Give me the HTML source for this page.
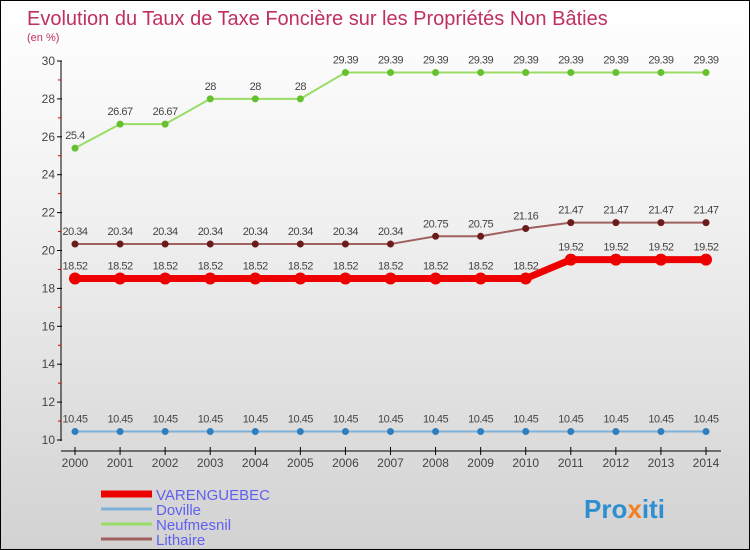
<!DOCTYPE html>
<html><head><meta charset="utf-8"><style>
body{margin:0}
#c{width:748px;height:548px;border:1px solid #000;background:linear-gradient(#fff 0%,#f0f0f0 40%,#d2d2d2 100%);position:relative;overflow:hidden;font-family:"Liberation Sans",sans-serif}
</style></head><body>
<div id="c">
<svg width="748" height="548" id="svg">
<text x="26" y="24" font-size="20" fill="#c0305e">Evolution du Taux de Taxe Foncière sur les Propriétés Non Bâties</text>
<text x="26" y="40" font-size="11" fill="#c0305e">(en %)</text>
<g id="axes"></g><g id="series"></g><g id="legend"></g>
<text x="583" y="517" font-size="26" font-weight="bold"><tspan fill="#2e8fd0">Pro</tspan><tspan fill="#f08020">x</tspan><tspan fill="#2e8fd0">iti</tspan></text>
</svg></div>
<script>
const years=[2000,2001,2002,2003,2004,2005,2006,2007,2008,2009,2010,2011,2012,2013,2014];
const yTicks=[10,12,14,16,18,20,22,24,26,28,30];
const varenguebec=[18.52,18.52,18.52,18.52,18.52,18.52,18.52,18.52,18.52,18.52,18.52,19.52,19.52,19.52,19.52];
const doville=[10.45,10.45,10.45,10.45,10.45,10.45,10.45,10.45,10.45,10.45,10.45,10.45,10.45,10.45,10.45];
const neufmesnil=[25.4,26.67,26.67,28,28,28,29.39,29.39,29.39,29.39,29.39,29.39,29.39,29.39,29.39];
const lithaire=[20.34,20.34,20.34,20.34,20.34,20.34,20.34,20.34,20.75,20.75,21.16,21.47,21.47,21.47,21.47];
const NS="http://www.w3.org/2000/svg";
function X(i){return 74+i*(705-74)/(years.length-1);}
function Y(v){return 439-(v-10)*(439-60)/20;}
function mk(p,t,a){const e=document.createElementNS(NS,t);for(const k in a)e.setAttribute(k,a[k]);p.appendChild(e);return e;}
const ax=document.getElementById('axes');
mk(ax,'line',{x1:60,y1:60,x2:60,y2:440,stroke:'#000'});
yTicks.forEach(v=>{const y=Y(v);
 mk(ax,'line',{x1:56,y1:y,x2:61,y2:y,stroke:'#000'});
 if(v<30)mk(ax,'line',{x1:57,y1:Y(v+1),x2:60,y2:Y(v+1),stroke:'#d00'});
 const t=mk(ax,'text',{x:54,y:y+4,'font-size':12,fill:'#444','text-anchor':'end'});t.textContent=v;
 
 });
mk(ax,'line',{x1:60,y1:450,x2:720,y2:450,stroke:'#000'});
years.forEach((yr,i)=>{const x=X(i);
 mk(ax,'line',{x1:x,y1:446,x2:x,y2:454,stroke:'#000'});
 const t=mk(ax,'text',{x:x,y:466,'font-size':12,fill:'#444','text-anchor':'middle'});t.textContent=yr;
 
 });
const sg=document.getElementById('series');
const defs=[["varenguebec",varenguebec,'#ee0000',7,6,'#ee0000'],["doville",doville,'#7fb0d8',2,3.5,'#2f7fc0'],["neufmesnil",neufmesnil,'#99dd66',2,3.5,'#66c030'],["lithaire",lithaire,'#a06060',2,3.5,'#6a1c1c']];
defs.forEach(([n,d,lc,w,r,mc])=>{
 const g=mk(sg,'g',{});
 
 
 mk(g,'polyline',{points:d.map((v,i)=>X(i)+','+Y(v)).join(' '),fill:'none',stroke:lc,'stroke-width':w});
 d.forEach((v,i)=>{const c=mk(g,'circle',{cx:X(i),cy:Y(v),r:r,fill:mc});
  
  
  const t=mk(g,'text',{x:X(i),y:Y(v)-9,'font-size':11,fill:'#444','text-anchor':'middle','letter-spacing':'-0.5'});t.textContent=v;
  
  });
});
const lg=document.getElementById('legend');
[["VARENGUEBEC",'#ee0000',7],["Doville",'#7fb0d8',3],["Neufmesnil",'#99dd66',3],["Lithaire",'#a06060',3]].forEach(([n,c,w],i)=>{
 const y=493+i*15;
 const g=mk(lg,'g',{});
 
 
 mk(g,'line',{x1:100,y1:y,x2:151,y2:y,stroke:c,'stroke-width':w});
 const t=mk(g,'text',{x:155,y:y+6,'font-size':15,fill:'#6060f0'});t.textContent=n;});
</script>
</body></html>
